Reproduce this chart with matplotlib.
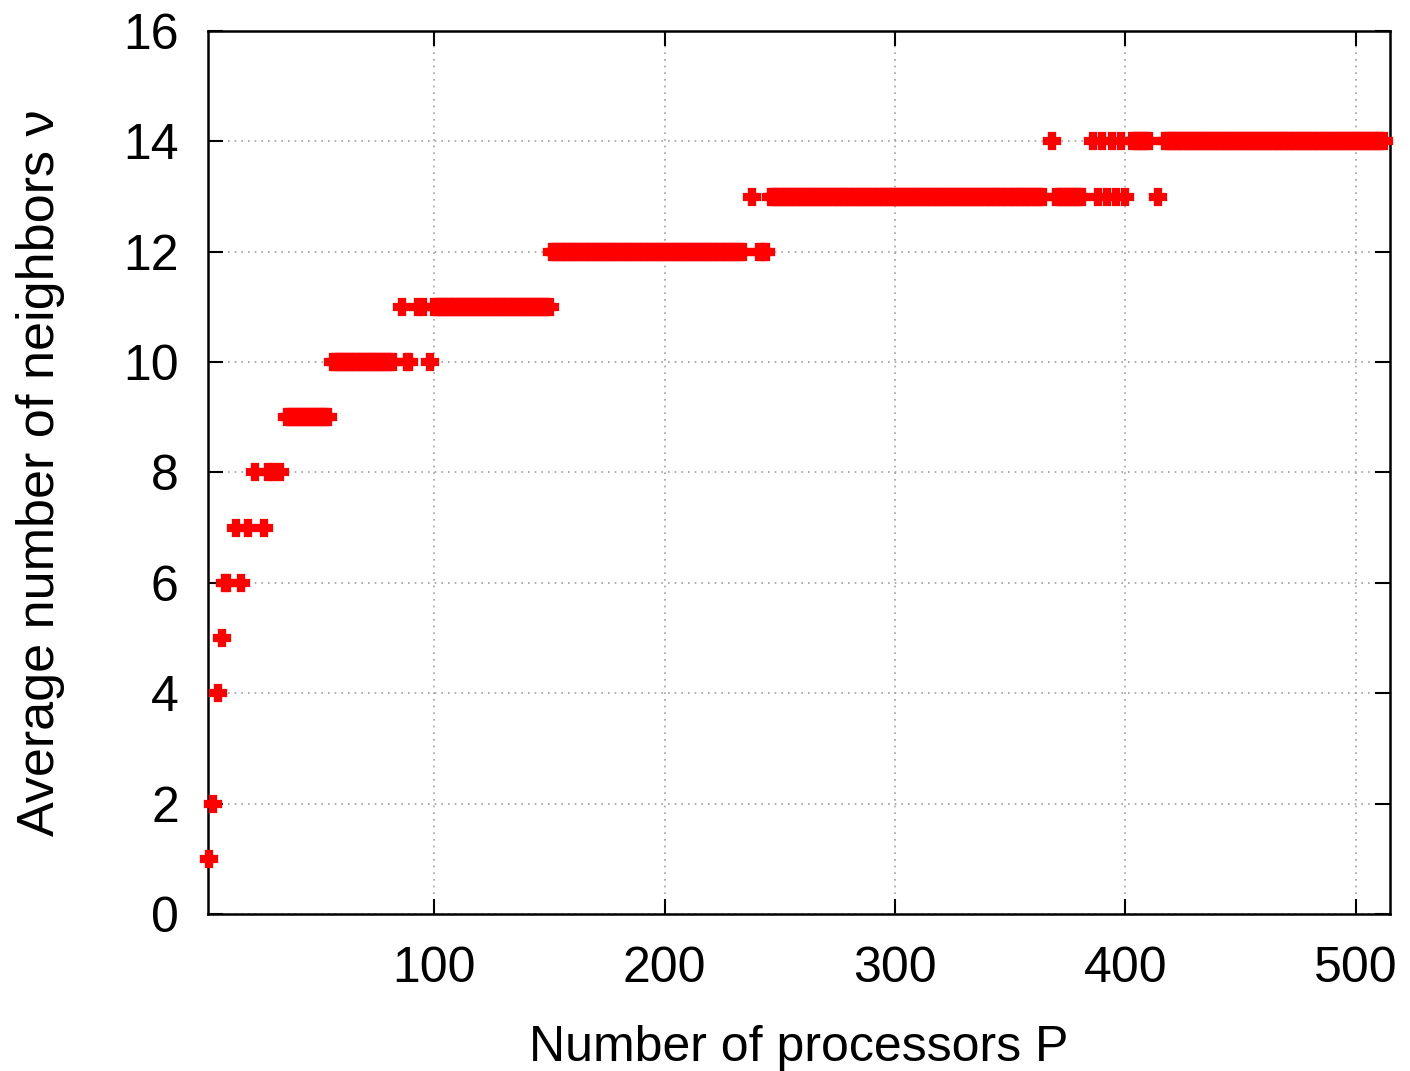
import numpy as np
import matplotlib

matplotlib.use("Agg")
import matplotlib.pyplot as plt

# runs of processor counts P that share the same average neighbour count
RUN_START = [2, 4, 6, 8, 9, 16, 14, 19, 26, 22, 28, 30, 33, 36,
             56, 88, 98, 86, 93, 95, 100, 151, 241,
             238, 246, 370, 388, 392, 396, 400, 414,
             368, 386, 390, 394, 398, 403, 417]
RUN_END = [2, 4, 6, 8, 10, 16, 14, 19, 26, 22, 28, 30, 33, 54,
           82, 89, 98, 86, 93, 95, 150, 234, 244,
           238, 364, 381, 388, 392, 396, 400, 414,
           368, 386, 390, 394, 398, 410, 512]
RUN_NU = [1, 2, 4, 5, 6, 6, 7, 7, 7, 8, 8, 8, 8, 9,
          10, 10, 10, 11, 11, 11, 11, 12, 12,
          13, 13, 13, 13, 13, 13, 13, 13,
          14, 14, 14, 14, 14, 14, 14]

X_TICKS = [100, 200, 300, 400, 500]
Y_TICKS = [0, 2, 4, 6, 8, 10, 12, 14, 16]

plt.rcParams["font.family"] = ["Liberation Sans", "DejaVu Sans"]

procs = []
nus = []
for start, end, nu in zip(RUN_START, RUN_END, RUN_NU):
    p = np.arange(start, end + 1)
    procs.append(p)
    nus.append(np.full(len(p), nu))
procs = np.concatenate(procs)
nus = np.concatenate(nus)

fig = plt.figure(figsize=(14.10, 10.71), dpi=100)
ax = fig.add_axes([0.1475, 0.1466, 0.8383, 0.8245])

ax.plot(procs, nus, linestyle="none", marker="P", markersize=11,
        color="#ff0000", markeredgecolor="#ff0000", markeredgewidth=1.6,
        clip_on=False, zorder=3)

ax.set_xlim(1.75, 514.8)
ax.set_ylim(0, 16)
ax.set_xticks(X_TICKS)
ax.set_yticks(Y_TICKS)
ax.grid(True, color="#a0a0a0", linestyle=(0, (1, 3)), linewidth=1.2)
ax.set_axisbelow(True)

ax.tick_params(direction="in", length=11, width=1.5, labelsize=36,
               top=True, right=True)
ax.tick_params(axis="y", pad=21)
ax.tick_params(axis="x", pad=23)
for spine in ax.spines.values():
    spine.set_linewidth(1.8)

ax.set_xlabel("Number of processors P", fontsize=36, labelpad=24)
ax.set_ylabel("Average number of neighbors \u03bd", fontsize=37.5, labelpad=42)

fig.savefig("out.png", dpi=100, facecolor="white")
